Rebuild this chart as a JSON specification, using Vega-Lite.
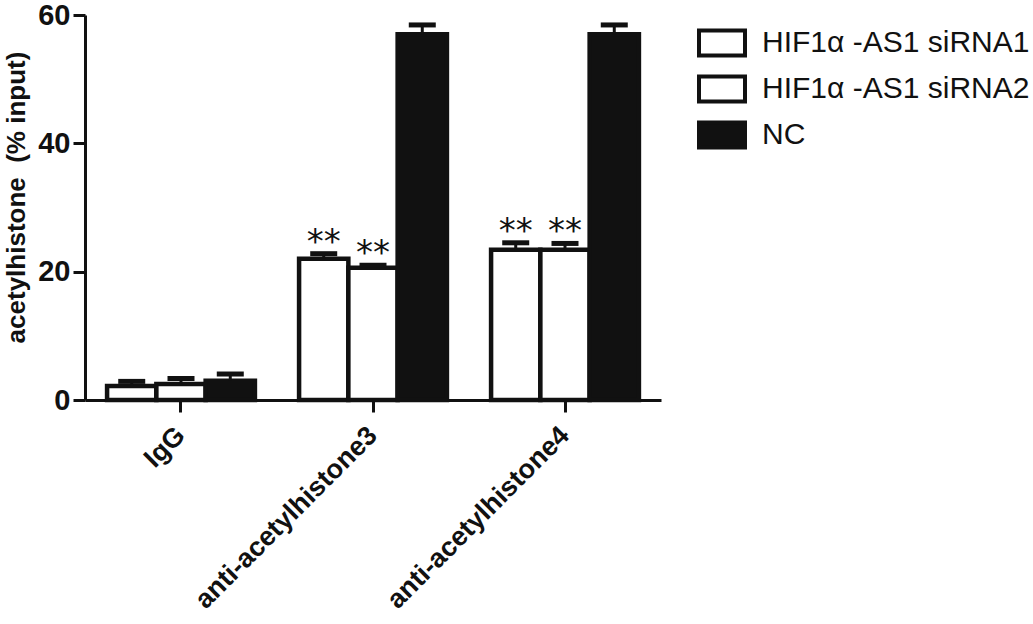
{
  "$schema": "https://vega.github.io/schema/vega-lite/v6.json",
  "width": 576,
  "height": 385,
  "autosize": {"type": "none"},
  "padding": {"left": 85, "top": 15, "right": 372, "bottom": 224},
  "background": "white",
  "config": {"view": {"stroke": null}, "font": "Liberation Sans"},
  "data": {
    "values": [
      {"group": "IgG", "cond": "HIF1α -AS1 siRNA1", "value": 2.2, "err": 2.9, "sig": ""},
      {"group": "IgG", "cond": "HIF1α -AS1 siRNA2", "value": 2.5, "err": 3.35, "sig": ""},
      {"group": "IgG", "cond": "NC", "value": 3.0, "err": 4.05, "sig": ""},
      {"group": "anti-acetylhistone3", "cond": "HIF1α -AS1 siRNA1", "value": 22.0, "err": 22.8, "sig": "**"},
      {"group": "anti-acetylhistone3", "cond": "HIF1α -AS1 siRNA2", "value": 20.6, "err": 21.0, "sig": "**"},
      {"group": "anti-acetylhistone3", "cond": "NC", "value": 57.0, "err": 58.45, "sig": ""},
      {"group": "anti-acetylhistone4", "cond": "HIF1α -AS1 siRNA1", "value": 23.4, "err": 24.5, "sig": "**"},
      {"group": "anti-acetylhistone4", "cond": "HIF1α -AS1 siRNA2", "value": 23.4, "err": 24.4, "sig": "**"},
      {"group": "anti-acetylhistone4", "cond": "NC", "value": 57.0, "err": 58.45, "sig": ""}
    ]
  },
  "encoding": {
    "x": {
      "field": "group",
      "type": "nominal",
      "sort": ["IgG", "anti-acetylhistone3", "anti-acetylhistone4"],
      "scale": {"paddingInner": 0.23, "paddingOuter": 0.115},
      "axis": {
        "title": null,
        "labelAngle": -45,
        "labelAlign": "right",
        "labelBaseline": "middle",
        "labelFontSize": 27,
        "labelFontWeight": "bold",
        "labelColor": "#111",
        "labelPadding": 19,
        "labelLimit": 0,
        "tickSize": 12,
        "tickWidth": 3,
        "tickColor": "#111",
        "domainColor": "#111",
        "domainWidth": 3
      }
    },
    "xOffset": {
      "field": "cond",
      "type": "nominal",
      "sort": ["HIF1α -AS1 siRNA1", "HIF1α -AS1 siRNA2", "NC"],
      "scale": {"paddingInner": 0, "paddingOuter": 0}
    }
  },
  "layer": [
    {
      "mark": {"type": "bar", "stroke": "#111", "strokeWidth": 4.5},
      "encoding": {
        "y": {
          "field": "value",
          "type": "quantitative",
          "scale": {"domain": [0, 60], "nice": false},
          "axis": {
            "values": [0, 20, 40, 60],
            "grid": false,
            "title": "acetylhistone\u00a0 (% input)",
            "titleFontSize": 26,
            "titleFontWeight": "bold",
            "titleColor": "#111",
            "titlePadding": 8,
            "titleY": 182,
            "labelFontSize": 29,
            "labelFontWeight": "bold",
            "labelColor": "#111",
            "labelPadding": 3,
            "tickSize": 12,
            "tickWidth": 3,
            "tickColor": "#111",
            "domainColor": "#111",
            "domainWidth": 3
          }
        },
        "fill": {
          "field": "cond",
          "type": "nominal",
          "scale": {"domain": ["HIF1α -AS1 siRNA1", "HIF1α -AS1 siRNA2", "NC"], "range": ["white", "white", "#111"]},
          "legend": {
            "title": null,
            "orient": "none",
            "legendX": 612,
            "legendY": 3,
            "symbolType": "M-1,-0.54H1V0.54H-1Z",
            "symbolSize": 2116,
            "symbolStrokeColor": "#111",
            "symbolStrokeWidth": 4,
            "labelFontSize": 30,
            "labelColor": "#111",
            "labelOffset": 15,
            "labelLimit": 0,
            "rowPadding": -4
          }
        }
      }
    },
    {
      "mark": {"type": "rule", "stroke": "#111", "strokeWidth": 3},
      "encoding": {
        "y": {"field": "value", "type": "quantitative"},
        "y2": {"field": "err"}
      }
    },
    {
      "mark": {"type": "tick", "color": "#111", "thickness": 5, "size": 27, "opacity": 1},
      "encoding": {
        "y": {"field": "err", "type": "quantitative"}
      }
    },
    {
      "transform": [{"filter": "datum.sig != ''"}],
      "mark": {"type": "text", "font": "DejaVu Sans", "fontSize": 34, "baseline": "alphabetic", "dy": -1, "color": "#111"},
      "encoding": {
        "y": {"field": "err", "type": "quantitative"},
        "text": {"field": "sig"}
      }
    }
  ]
}
